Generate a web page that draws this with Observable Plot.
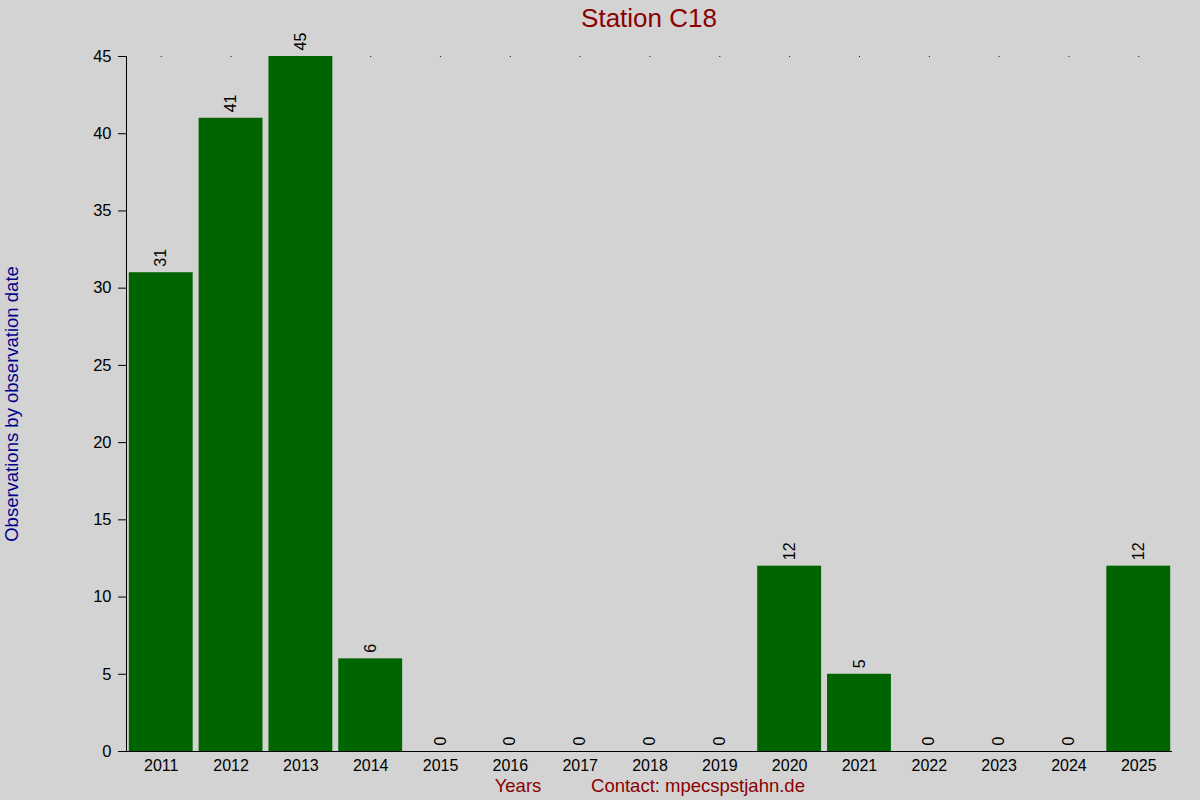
<!DOCTYPE html>
<html><head><meta charset="utf-8">
<script src="https://cdn.jsdelivr.net/npm/d3@7"></script>
<script src="https://cdn.jsdelivr.net/npm/@observablehq/plot@0.6"></script>
<style>
html,body{margin:0;padding:0;background:#d3d3d3;}
#chart svg{display:block;}
</style></head>
<body><div id="chart"></div>
<script>
const years = ["2011","2012","2013","2014","2015","2016","2017","2018","2019","2020","2021","2022","2023","2024","2025"];
const counts = [31,41,45,6,0,0,0,0,0,12,5,0,0,0,12];
const yTicks = [0,5,10,15,20,25,30,35,40,45];
const titleText = "Station C18";
const yLabel = "Observations by observation date";
const xLabel = "Years";
const contact = "Contact: mpecspstjahn.de";

const data = years.map((y,i)=>({year:y, count:counts[i]}));
const font = "Liberation Sans, Arial, sans-serif";

const plot = Plot.plot({
  width: 1200, height: 800,
  marginLeft: 126, marginRight: 27, marginTop: 56, marginBottom: 49,
  style: {background: "#d3d3d3", fontFamily: font, fontSize: "16px", color: "#000"},
  x: {domain: years, paddingInner: 0.085, paddingOuter: 0.04, round: false, label: null},
  y: {domain: [0,45], label: null},
  marks: [
    Plot.dot(years, {x: d=>d, y: ()=>45, r: 0.6, fill: "black", stroke: null}),
    Plot.barY(data, {x: "year", y: "count", fill: "#006400"}),
    Plot.text(data, {x: "year", y: "count", text: d=>String(d.count), rotate: -90, textAnchor: "start", lineAnchor: "middle", dy: -6, fontSize: 16, fill: "#000"}),
    Plot.axisY({ticks: yTicks, tickSize: 8, tickPadding: 7, fontSize: 16.5, label: null}),
    Plot.axisX({tickSize: 0, tickPadding: 8, fontSize: 16, label: null}),
    Plot.frame({anchor: "left", stroke: "black"}),
    Plot.ruleY([0], {stroke: "black", insetLeft: -8, insetRight: 1}),
    Plot.text([titleText], {frameAnchor: "top", dy: -38, dx: -1, text: d=>d, fontSize: 26, fill: "#8b0000", lineAnchor: "middle"}),
    Plot.text([xLabel], {frameAnchor: "bottom", text: d=>d, dy: 35, dx: -132, fontSize: 18.5, fill: "#8b0000", lineAnchor: "middle"}),
    Plot.text([contact], {frameAnchor: "bottom", text: d=>d, dy: 35, dx: 48, fontSize: 18.5, fill: "#8b0000", lineAnchor: "middle"}),
    Plot.text([yLabel], {frameAnchor: "left", text: d=>d, rotate: -90, dx: -114, fontSize: 18.5, fill: "#00008b", lineAnchor: "middle", textAnchor: "middle"})
  ]
});
document.getElementById("chart").appendChild(plot);
</script></body></html>
